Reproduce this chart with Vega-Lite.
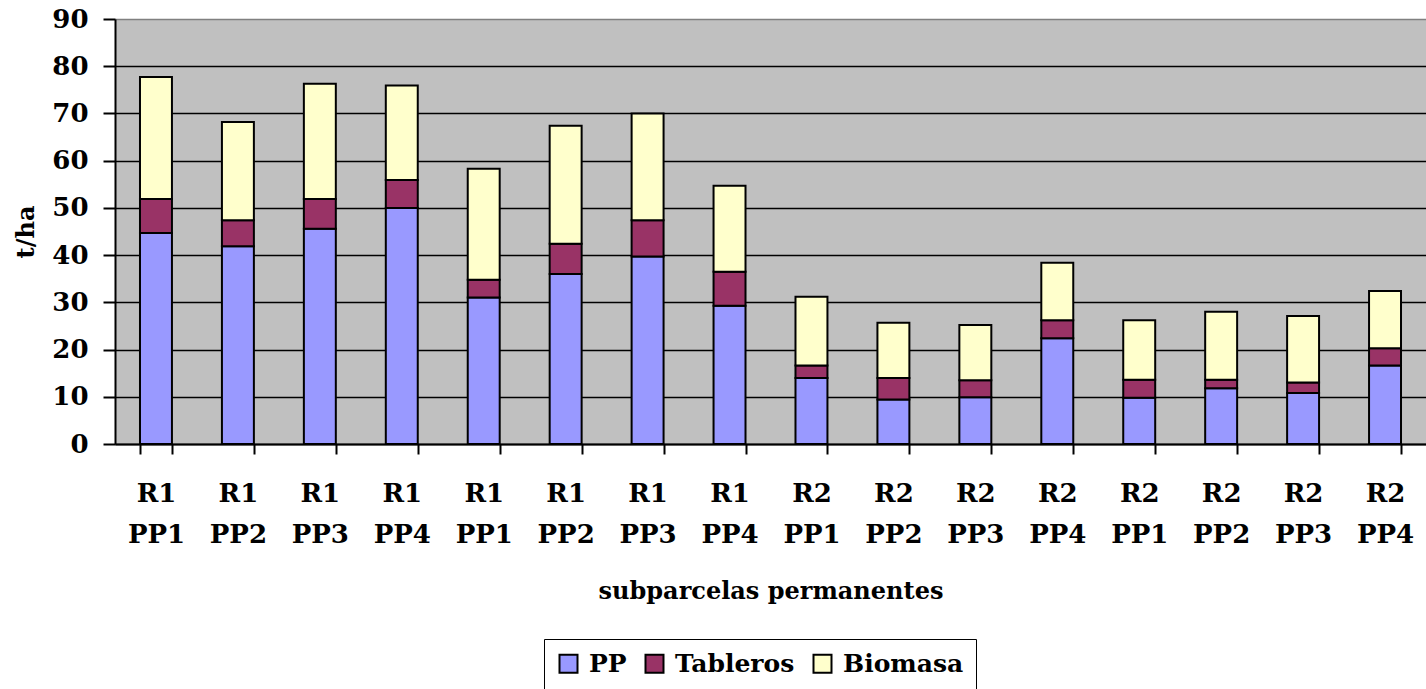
{
  "$schema": "https://vega.github.io/schema/vega-lite/v6.json",
  "width": 1311,
  "height": 425,
  "autosize": {"type": "none"},
  "padding": {"left": 115, "top": 19, "right": 0, "bottom": 245},
  "background": "white",
  "config": {"view": {"stroke": null, "fill": "#C0C0C0"}, "font": "DejaVu Serif"},
  "data": {"values": [
    {"id": "R1 PP1 #1", "PP": 44.7, "Tableros": 7.2, "Biomasa": 25.8},
    {"id": "R1 PP2 #2", "PP": 41.9, "Tableros": 5.5, "Biomasa": 20.8},
    {"id": "R1 PP3 #3", "PP": 45.6, "Tableros": 6.3, "Biomasa": 24.4},
    {"id": "R1 PP4 #4", "PP": 50.0, "Tableros": 5.9, "Biomasa": 20.0},
    {"id": "R1 PP1 #5", "PP": 31.0, "Tableros": 3.8, "Biomasa": 23.5},
    {"id": "R1 PP2 #6", "PP": 36.0, "Tableros": 6.4, "Biomasa": 25.0},
    {"id": "R1 PP3 #7", "PP": 39.7, "Tableros": 7.7, "Biomasa": 22.6},
    {"id": "R1 PP4 #8", "PP": 29.3, "Tableros": 7.2, "Biomasa": 18.2},
    {"id": "R2 PP1 #9", "PP": 14.0, "Tableros": 2.6, "Biomasa": 14.6},
    {"id": "R2 PP2 #10", "PP": 9.4, "Tableros": 4.6, "Biomasa": 11.7},
    {"id": "R2 PP3 #11", "PP": 9.9, "Tableros": 3.6, "Biomasa": 11.7},
    {"id": "R2 PP4 #12", "PP": 22.4, "Tableros": 3.8, "Biomasa": 12.2},
    {"id": "R2 PP1 #13", "PP": 9.8, "Tableros": 3.8, "Biomasa": 12.6},
    {"id": "R2 PP2 #14", "PP": 11.8, "Tableros": 1.8, "Biomasa": 14.4},
    {"id": "R2 PP3 #15", "PP": 10.8, "Tableros": 2.2, "Biomasa": 14.1},
    {"id": "R2 PP4 #16", "PP": 16.6, "Tableros": 3.7, "Biomasa": 12.1}
  ]},
  "transform": [
    {"fold": ["PP", "Tableros", "Biomasa"], "as": ["c", "v"]},
    {"calculate": "indexof(['PP', 'Tableros', 'Biomasa'], datum.c)", "as": "o"}
  ],
  "mark": {"type": "bar", "stroke": "black", "strokeWidth": 2},
  "encoding": {
    "x": {
      "field": "id", "type": "nominal", "sort": null,
      "scale": {"paddingInner": 0.61, "paddingOuter": 0.305},
      "axis": {
        "title": "subparcelas permanentes",
        "labelAngle": 0,
        "labelExpr": "isString(datum.value) ? [split(datum.value, ' ')[0], split(datum.value, ' ')[1]] : ''",
        "labelFont": "DejaVu Serif", "labelFontWeight": "bold", "labelFontSize": 26,
        "labelColor": "black", "labelBaseline": "top", "labelPadding": 26, "labelLineHeight": 41,
        "tickBand": "extent", "tickSize": 10, "tickColor": "black", "tickWidth": 2,
        "domainColor": "black", "domainWidth": 2, "grid": false,
        "titleFont": "DejaVu Serif", "titleFontSize": 24, "titleFontWeight": "bold",
        "titleColor": "black", "titleBaseline": "alphabetic", "titleY": 154
      }
    },
    "y": {
      "field": "v", "type": "quantitative", "stack": "zero",
      "scale": {"domain": [0, 90], "nice": false},
      "axis": {
        "title": "t/ha",
        "values": [0, 10, 20, 30, 40, 50, 60, 70, 80, 90],
        "grid": true,
        "gridColor": {"condition": {"test": "datum.value === 90", "value": "#808080"}, "value": "black"},
        "gridWidth": 1.5, "gridOpacity": 1,
        "tickSize": 12, "tickColor": "black", "tickWidth": 2,
        "domainColor": "black", "domainWidth": 2,
        "labelFont": "DejaVu Serif", "labelFontSize": 26, "labelFontWeight": "bold",
        "labelColor": "black", "labelPadding": 15,
        "titleFont": "DejaVu Serif", "titleFontSize": 24, "titleFontWeight": "bold",
        "titleColor": "black", "titleX": -82, "titleBaseline": "alphabetic"
      }
    },
    "color": {
      "field": "c", "type": "nominal",
      "scale": {"domain": ["PP", "Tableros", "Biomasa"], "range": ["#9999FF", "#993366", "#FFFFCC"]},
      "legend": {
        "orient": "none", "legendX": 429, "legendY": 620,
        "direction": "horizontal", "title": null,
        "strokeColor": "black", "padding": 12,
        "symbolType": "square", "symbolSize": 324,
        "symbolStrokeColor": "black", "symbolStrokeWidth": 2, "symbolOpacity": 1,
        "labelFont": "DejaVu Serif", "labelFontSize": 25, "labelFontWeight": "bold",
        "labelColor": "black", "columnPadding": 14, "labelOffset": 8
      }
    },
    "order": {"field": "o", "type": "quantitative"}
  }
}
